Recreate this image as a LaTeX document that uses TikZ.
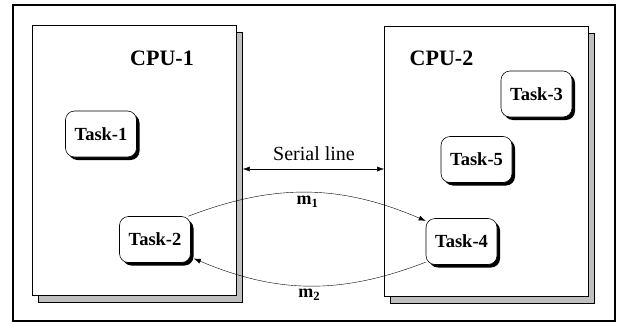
\documentclass[tikz,border=0pt]{standalone}
\usepackage{fontspec}
\setmainfont{Liberation Serif}
\usetikzlibrary{shapes, arrows.meta, calc, shadows}

\tikzset{
	cpu/.style={draw, thick, fill=white, minimum width=204pt, minimum height=270pt,
		general shadow={shadow xshift=6pt, shadow yshift=-7pt, fill=gray!50, draw=black, thin}},
	cpulabel/.style={font=\fontsize{22}{24}\selectfont\bfseries},
	task/.style={draw, semithick, fill=white, rounded corners=9pt, minimum width=71pt, minimum height=46pt,
		inner sep=0pt, font=\fontsize{18.5}{20}\selectfont\bfseries,
		general shadow={shadow xshift=3pt, shadow yshift=-3pt, fill=black}},
	msg/.style={-{Latex[length=7pt, width=5pt]}},
	msglabel/.style={font=\fontsize{18}{20}\selectfont\bfseries},
}

\begin{document}
\begin{tikzpicture}[x=1pt, y=-1pt]
		\useasboundingbox (0, 0) rectangle (623, 324);
		\draw[line width=1.3pt] (13, 5) rectangle (615, 321);

		\node[cpu] (cpu1) at (134.5, 160) {};
		\node[cpu] (cpu2) at (486.5, 161.5) {};
		\node[cpulabel] (cpu1label) at (162, 58) {CPU-1};
		\node[cpulabel] (cpu2label) at (441.5, 58) {CPU-2};

		\node[task] (task1) at (101, 134) {Task-1};
		\node[task] (task2) at (155, 239.5) {Task-2};
		\node[task] (task3) at (536.5, 94) {Task-3};
		\node[task] (task5) at (476.5, 159.5) {Task-5};
		\node[task] (task4) at (461.5, 241.5) {Task-4};

		\coordinate (link) at (314, 169);
		\node[above=5pt, font=\fontsize{20}{22}\selectfont] (serial) at (link) {Serial line};
		\draw[{Latex[length=7pt, width=5pt]}-{Latex[length=7pt, width=5pt]}] ([xshift=6pt]cpu1.east |- link) -- (cpu2.west |- link);

		\draw[msg] (task2.35) to[bend left=22] node[below=0pt, msglabel] {m\textsubscript{1}} (task4.150);
		\draw[msg] (task4.210) to[bend left=22] node[below=0pt, msglabel] {m\textsubscript{2}} ([xshift=3pt]task2.-28);
	\end{tikzpicture}
\end{document}
